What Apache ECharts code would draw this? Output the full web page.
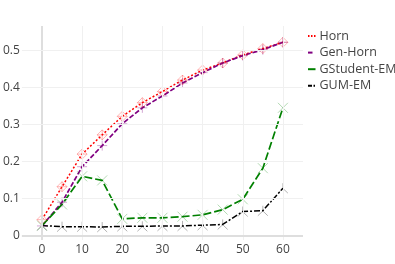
<!DOCTYPE html>
<html>
<head>
<meta charset="utf-8">
<script src="https://cdn.jsdelivr.net/npm/echarts@6/dist/echarts.min.js"></script>
<style>html,body{margin:0;padding:0;background:#fff}#c{width:395px;height:264px}</style>
</head>
<body>
<div id="c"></div>
<script>
var xValues = [0, 5, 10, 15, 20, 25, 30, 35, 40, 45, 50, 55, 60];
var horn = [0.043, 0.132, 0.220, 0.272, 0.322, 0.359, 0.389, 0.420, 0.447, 0.466, 0.488, 0.505, 0.522];
var genHorn = [0.026, 0.090, 0.186, 0.243, 0.302, 0.345, 0.377, 0.412, 0.440, 0.466, 0.486, 0.502, 0.522];
var gStudent = [0.027, 0.084, 0.160, 0.149, 0.045, 0.048, 0.048, 0.051, 0.056, 0.070, 0.098, 0.182, 0.345];
var gumEm = [0.027, 0.024, 0.024, 0.023, 0.025, 0.025, 0.026, 0.026, 0.028, 0.030, 0.065, 0.067, 0.128];
var xTicks = [0, 10, 20, 30, 40, 50, 60];
var yTicks = [0, 0.1, 0.2, 0.3, 0.4, 0.5];
var seriesNames = ['Horn', 'Gen-Horn', 'GStudent-EM', 'GUM-EM'];

function pairs(vals) { return xValues.map(function (x, i) { return [x, vals[i]]; }); }

var font = '"Open Sans", "DejaVu Sans", sans-serif';
var gridColor = '#f0f0f0';
var zeroColor = '#dedede';

var markData = [];
xTicks.forEach(function (v) {
  markData.push({ xAxis: v, lineStyle: { color: v === 0 ? zeroColor : gridColor, width: v === 0 ? 2 : 1, type: 'solid' } });
});
yTicks.forEach(function (v) {
  markData.push({ yAxis: v, lineStyle: { color: v === 0 ? zeroColor : gridColor, width: v === 0 ? 2 : 1, type: 'solid' } });
});

var sym = {
  diamondCross: 'path://M5,0L10,5L5,10L0,5ZM5,0L5,10M0,5L10,5',
  plus: 'path://M5,0L5,10M0,5L10,5',
  x: 'path://M0,0L10,10M10,0L0,10',
  y: 'path://M5,5L5,0M5,5L0.7,9.5M5,5L9.3,9.5'
};

var styles = [
  { color: 'red', marker: 'rgba(255,0,0,0.28)', dash: [2, 2], width: 1.5, symbol: sym.diamondCross, legDash: [1.5, 1.5], legLen: 7.5 },
  { color: 'purple', marker: 'rgba(128,0,128,0.35)', dash: [5, 2], width: 1.7, symbol: sym.plus, legDash: null, legLen: 4.5 },
  { color: 'green', marker: 'rgba(0,128,0,0.3)', dash: [8, 3], width: 1.7, symbol: sym.x, legDash: null, legLen: 7.5 },
  { color: 'black', marker: 'rgba(0,0,0,0.3)', dash: [6, 2, 2, 2], width: 1.5, symbol: sym.y, legDash: [4, 1.5, 1.5, 1.5], legLen: 7.5 }
];
var seriesValues = [horn, genHorn, gStudent, gumEm];

function mk(i) {
  var s = styles[i];
  return {
    name: seriesNames[i], type: 'line', data: pairs(seriesValues[i]), z: 3,
    symbol: s.symbol, symbolSize: 10, showSymbol: true,
    lineStyle: { color: s.color, width: s.width, type: s.dash },
    itemStyle: { color: 'none', borderColor: s.marker, borderWidth: 1 },
    emphasis: { disabled: true },
    animation: false
  };
}

var legendEls = [];
seriesNames.forEach(function (name, i) {
  var y = 36 + i * 16.6;
  legendEls.push({
    type: 'line', silent: true,
    shape: { x1: 308, y1: y, x2: 308 + styles[i].legLen, y2: y },
    style: { stroke: styles[i].color, lineWidth: 2, lineDash: styles[i].legDash }
  });
  legendEls.push({
    type: 'text', silent: true, x: 319.5, y: y,
    style: { text: name, fill: '#444', font: '12.5px ' + font, verticalAlign: 'middle', align: 'left' }
  });
});

var chart = echarts.init(document.getElementById('c'), null, { renderer: 'canvas' });
chart.setOption({
  animation: false,
  grid: { left: 20, right: 92, top: 26, bottom: 24, containLabel: false },
  xAxis: {
    type: 'value', min: -5, max: 65,
    axisLine: { show: false }, axisTick: { show: false }, splitLine: { show: false },
    axisLabel: { customValues: xTicks, color: '#444', fontSize: 12, fontFamily: font, margin: 4 }
  },
  yAxis: {
    type: 'value', min: -0.012, max: 0.566,
    axisLine: { show: false }, axisTick: { show: false }, splitLine: { show: false },
    axisLabel: { customValues: yTicks, color: '#444', fontSize: 12, fontFamily: font, margin: 2,
      formatter: function (v) { return String(Math.round(v * 10) / 10); } }
  },
  graphic: { elements: legendEls },
  series: [
    { name: 'grid', type: 'line', data: [], z: 1, silent: true,
      markLine: { silent: true, symbol: ['none', 'none'], label: { show: false }, animation: false, data: markData } },
    mk(0), mk(1), mk(2), mk(3)
  ]
});
</script>
</body>
</html>
